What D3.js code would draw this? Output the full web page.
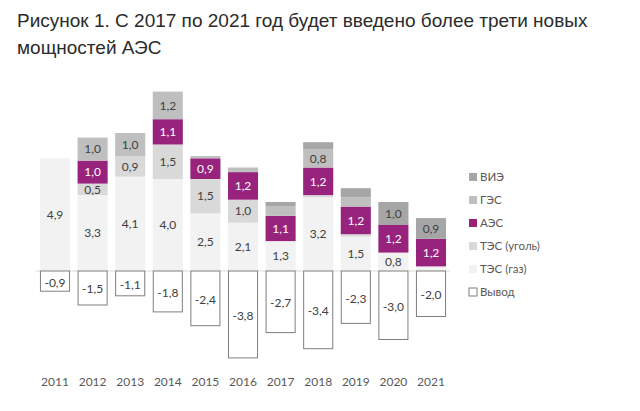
<!DOCTYPE html>
<html><head><meta charset="utf-8">
<script src="https://cdn.jsdelivr.net/npm/d3@7"></script>
<style>
html,body{margin:0;padding:0;background:#fff;}
svg{display:block;}
</style></head>
<body>
<svg id="c" width="640" height="411"></svg>
<script>
const years = ["2011","2012","2013","2014","2015","2016","2017","2018","2019","2020","2021"];
const gas   = [4.9, 3.3, 4.1, 4.0, 2.5, 2.1, 1.3, 3.2, 1.5, 0.8, 0.2];
const coal  = [0,   0.5, 0.9, 1.5, 1.5, 1.0, 0,   0.1, 0.1, 0,   0];
const aes   = [0,   1.0, 0,   1.1, 0.9, 1.2, 1.1, 1.2, 1.2, 1.2, 1.2];
const ges   = [0,   1.0, 1.0, 1.2, 0.1, 0.2, 0.4, 0.8, 0.4, 0,   0];
const vie   = [0,   0,   0,   0,   0,   0,   0.2, 0.3, 0.4, 1.0, 0.9];
const withdrawal = [-0.9, -1.5, -1.1, -1.8, -2.4, -3.8, -2.7, -3.4, -2.3, -3.0, -2.0];
const seriesNames = ["ТЭС (газ)", "ТЭС (уголь)", "АЭС", "ГЭС", "ВИЭ"];
const legendNames = ["ВИЭ", "ГЭС", "АЭС", "ТЭС (уголь)", "ТЭС (газ)", "Вывод"];
const titleLines = ["Рисунок 1. С 2017 по 2021 год будет введено более трети новых", "мощностей АЭС"];

const colors = {"ТЭС (газ)":"#f2f2f2","ТЭС (уголь)":"#d9d9d9","АЭС":"#98237c","ГЭС":"#bfbfbf","ВИЭ":"#a6a6a6","Вывод":"#ffffff"};
const labelColors = {"ТЭС (газ)":"#404040","ТЭС (уголь)":"#404040","АЭС":"#ffffff","ГЭС":"#404040","ВИЭ":"#404040"};

const svg = d3.select("#c");
const fmt = v => v.toFixed(1).replace(".", ",");

// title
svg.append("g").selectAll("text").data(titleLines).join("text")
  .attr("x", 17).attr("y", (d,i) => 27 + i*27)
  .attr("font-family", "'Liberation Sans', Arial, sans-serif")
  .attr("font-size", 19).attr("fill", "#2b2b2b").text(d => d);

const x = d3.scaleBand().domain(years).range([36.2, 449.8]).paddingInner(0.2).paddingOuter(0.1);
const y = d3.scaleLinear().domain([-4, 8]).range([363, 87]);

const table = years.map((yr,i) => ({year: yr, "ТЭС (газ)": gas[i], "ТЭС (уголь)": coal[i], "АЭС": aes[i], "ГЭС": ges[i], "ВИЭ": vie[i], w: withdrawal[i]}));
const stack = d3.stack().keys(seriesNames)(table);

// zero line
svg.append("line").attr("x1", x.range()[0]).attr("x2", x.range()[1])
  .attr("y1", y(0)).attr("y2", y(0)).attr("stroke", "#d9d9d9").attr("stroke-width", 1);

const font = "Lato, 'Open Sans', sans-serif";

const layers = svg.append("g").selectAll("g").data(stack).join("g");
layers.selectAll("rect").data(s => s.map(d => ({d, key: s.key}))).join("rect")
  .filter(o => o.d[1] - o.d[0] > 0)
  .attr("x", o => x(o.d.data.year)).attr("width", x.bandwidth())
  .attr("y", o => y(o.d[1])).attr("height", o => y(o.d[0]) - y(o.d[1]))
  .attr("fill", o => colors[o.key]);

layers.selectAll("text").data(s => s.map(d => ({d, key: s.key}))).join("text")
  .filter(o => o.d[1] - o.d[0] >= 0.5)
  .attr("x", o => x(o.d.data.year) + x.bandwidth()/2)
  .attr("y", o => y((o.d[0] + o.d[1]) / 2))
  .attr("dy", "0.35em").attr("text-anchor", "middle")
  .attr("font-family", font).attr("font-size", 12)
  .attr("fill", o => labelColors[o.key])
  .text(o => fmt(o.d[1] - o.d[0]));

// withdrawal
svg.append("g").selectAll("rect").data(table).join("rect")
  .attr("x", d => x(d.year) + 0.5).attr("width", x.bandwidth() - 1)
  .attr("y", y(0)).attr("height", d => y(d.w) - y(0) - 0.5)
  .attr("fill", "#ffffff").attr("stroke", "#7f7f7f").attr("stroke-width", 1);
svg.append("g").selectAll("text").data(table).join("text")
  .attr("x", d => x(d.year) + x.bandwidth()/2)
  .attr("y", d => y(d.w / 2) + 1)
  .attr("dy", "0.35em").attr("text-anchor", "middle")
  .attr("font-family", font).attr("font-size", 12).attr("fill", "#404040")
  .text(d => fmt(d.w));

// x axis labels
const xAxis = d3.axisBottom(x).tickSize(0).tickPadding(0);
const ax = svg.append("g").attr("transform", "translate(0,377)").call(xAxis);
ax.select(".domain").remove();
ax.selectAll("text").attr("font-family", font).attr("font-size", 12).attr("fill", "#595959");

// legend
const lg = svg.append("g").selectAll("g").data(legendNames).join("g")
  .attr("transform", (d,i) => `translate(469,${177 + i*23})`);
lg.append("rect").attr("x", 0).attr("y", -4).attr("width", 8).attr("height", 8)
  .attr("fill", d => colors[d])
  .attr("stroke", d => d === "Вывод" ? "#7f7f7f" : "none").attr("stroke-width", 1);
lg.append("text").attr("x", 11).attr("y", 0).attr("dy", "0.35em")
  .attr("font-family", font).attr("font-size", 11.5).attr("fill", "#595959")
  .text(d => d);
</script>
</body></html>
